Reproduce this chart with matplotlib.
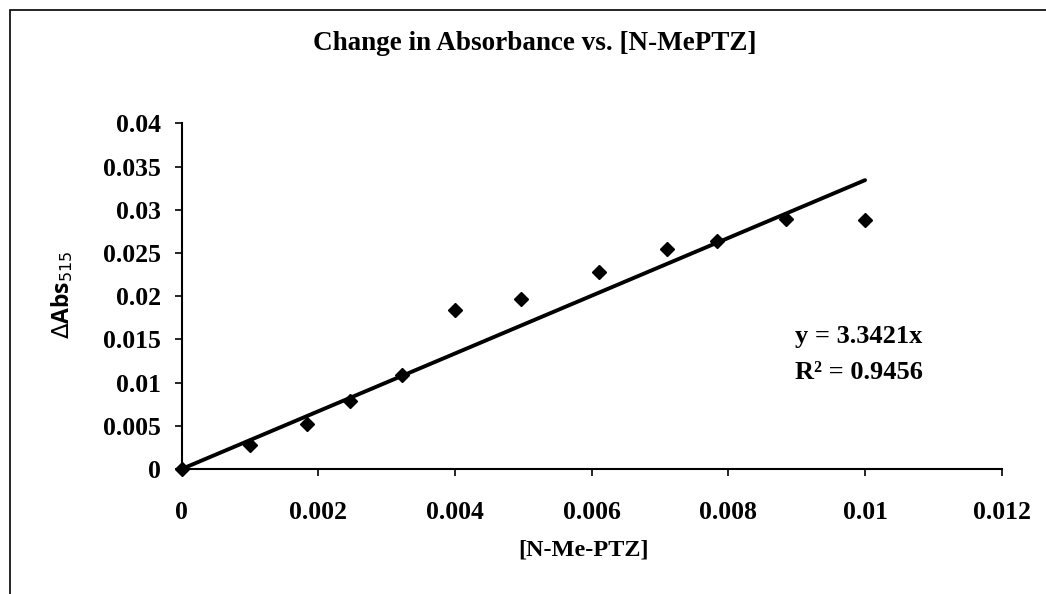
import matplotlib
matplotlib.use("Agg")
import matplotlib.pyplot as plt
from matplotlib.patches import Rectangle
import numpy as np

# Data
conc = [0.0, 0.0010, 0.00183, 0.00247, 0.00323, 0.0040, 0.00497,
        0.0061, 0.0071, 0.00783, 0.00885, 0.0100]
dabs = [0.0, 0.0028, 0.0052, 0.0079, 0.0109, 0.0184, 0.0197,
        0.0228, 0.0254, 0.0264, 0.0289, 0.0288]
slope = 3.3421
r2 = 0.9456
x_ticks = [0, 0.002, 0.004, 0.006, 0.008, 0.01, 0.012]
x_tick_labels = ["0", "0.002", "0.004", "0.006", "0.008", "0.01", "0.012"]
y_ticks = [0, 0.005, 0.01, 0.015, 0.02, 0.025, 0.03, 0.035, 0.04]
y_tick_labels = ["0", "0.005", "0.01", "0.015", "0.02", "0.025", "0.03", "0.035", "0.04"]

serif = ["Liberation Serif", "DejaVu Serif"]

W, H = 1046, 594
fig = plt.figure(figsize=(W / 100, H / 100), dpi=100)
fig.patch.set_facecolor("white")

# outer chart border (extends past right/bottom edges)
fig.patches.append(Rectangle((10 / W, -0.05), 1.2, 1 - 10 / H + 0.05,
                             transform=fig.transFigure, fill=False,
                             edgecolor="black", linewidth=1.2))

left, right, top, bottom = 181.7, 1001.7, 123.3, 469.0
ax = fig.add_axes([left / W, 1 - bottom / H, (right - left) / W, (bottom - top) / H])

ax.set_xlim(0, 0.012)
ax.set_ylim(0, 0.04)

# trend line through origin
xs = np.array([0, max(conc)])
ax.plot(xs, slope * xs, color="black", linewidth=2.8, solid_capstyle="round", zorder=2)
ax.plot(conc, dabs, linestyle="none", marker="D", markersize=7,
        color="black", zorder=3, clip_on=False)

for s in ["top", "right"]:
    ax.spines[s].set_visible(False)
for s in ["left", "bottom"]:
    ax.spines[s].set_linewidth(1.5)

ax.set_xticks(x_ticks)
ax.set_xticklabels(x_tick_labels)
ax.set_yticks(y_ticks)
ax.set_yticklabels(y_tick_labels)
ax.tick_params(axis="both", direction="out", length=5, width=1.2, color="black")
ax.tick_params(axis="x", pad=18)
ax.tick_params(axis="y", pad=10)
for lab in ax.get_xticklabels() + ax.get_yticklabels():
    lab.set_fontfamily(serif)
    lab.set_fontweight("bold")
    lab.set_fontsize(18.5)

ax.set_xlabel("[N-Me-PTZ]", fontfamily=serif, fontweight="bold", fontsize=17.5)
ax.xaxis.set_label_coords(0.49, -0.205)

fig.text(62 / W, 1 - 295 / H, r"$\Delta$Abs$_{515}$", rotation=90, ha="center", va="center",
         fontfamily=["Open Sans", "DejaVu Sans"], fontsize=16.5, fontweight="bold")

fig.text(535 / W, 1 - 43 / H, "Change in Absorbance vs. [N-MePTZ]", ha="center", va="center",
         fontfamily=serif, fontweight="bold", fontsize=19.5)

ax.text(0.00897, 0.0153, "y = %.4fx" % slope, fontfamily=serif, fontweight="bold",
        fontsize=19, va="center", ha="left")
ax.text(0.00897, 0.0112, "R\u00b2 = %.4f" % r2, fontfamily=serif, fontweight="bold",
        fontsize=19, va="center", ha="left")

fig.savefig("out.png", dpi=100, facecolor="white")
